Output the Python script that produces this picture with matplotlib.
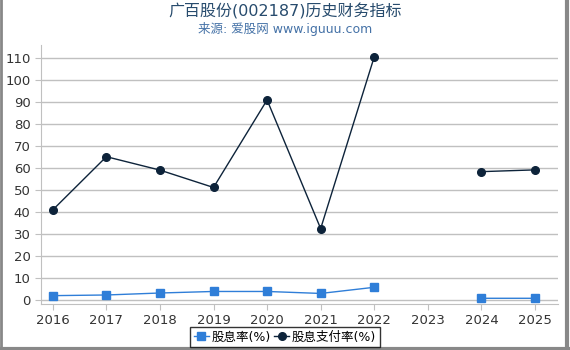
import numpy as np
import matplotlib.pyplot as plt

plt.rcParams['font.family'] = ['DejaVu Sans', 'Noto Sans CJK SC']

years = [2016, 2017, 2018, 2019, 2020, 2021, 2022, 2023, 2024, 2025]
yield_pct = [2.0, 2.3, 3.2, 3.9, 3.9, 3.0, 5.8, np.nan, 0.8, 0.8]
payout_pct = [41.0, 65.2, 59.1, 51.2, 91.0, 32.5, 110.6, np.nan, 58.4, 59.2]

fig = plt.figure(figsize=(5.7, 3.5), dpi=100)
ax = fig.add_axes([41 / 570, 1 - 304 / 350, 517 / 570, 259 / 350])

ax.plot(years, yield_pct, color='#2f7ed8', marker='s', markersize=5.5,
        linewidth=1, label='股息率(%)')
ax.plot(years, payout_pct, color='#0d233a', marker='o', markersize=5.5,
        linewidth=1, label='股息支付率(%)')

ax.set_xlim(2015.78, 2025.43)
ax.set_ylim(-1.8, 116)
ax.set_xticks(years)
ax.set_yticks(range(0, 111, 10))
ax.grid(axis='y', color='#c0c0c0', linewidth=1)
ax.set_axisbelow(True)
for s in ['top', 'right']:
    ax.spines[s].set_visible(False)
for s in ['left', 'bottom']:
    ax.spines[s].set_color('#c0c0c0')
ax.tick_params(colors='#c0c0c0', labelcolor='#333333', labelsize=9.5, length=4)

fig.text(0.5, 0.967, '广百股份(002187)历史财务指标', ha='center', va='center',
         fontsize=11.5, color='#274b6d')
fig.text(0.5, 0.917, '来源: 爱股网 www.iguuu.com', ha='center', va='center',
         fontsize=9, color='#4572a7')

handles, labels = ax.get_legend_handles_labels()
leg = fig.legend(handles, labels, loc='center', bbox_to_anchor=(0.5, 1 - 337 / 350),
                 ncol=2, frameon=True, fancybox=False, edgecolor='black', fontsize=9,
                 handlelength=1.2, handletextpad=0.2, columnspacing=0.3,
                 borderpad=0.3, borderaxespad=0.1)
leg.get_frame().set_linewidth(1)

fig.add_artist(plt.Line2D([0.001, 0.001], [0, 1], color='#888888', lw=2))
fig.add_artist(plt.Line2D([0.994, 0.994], [0, 1], color='#888888', lw=3))
fig.add_artist(plt.Line2D([0, 1], [0.003, 0.003], color='#888888', lw=3))

fig.savefig('out.png', dpi=100)
